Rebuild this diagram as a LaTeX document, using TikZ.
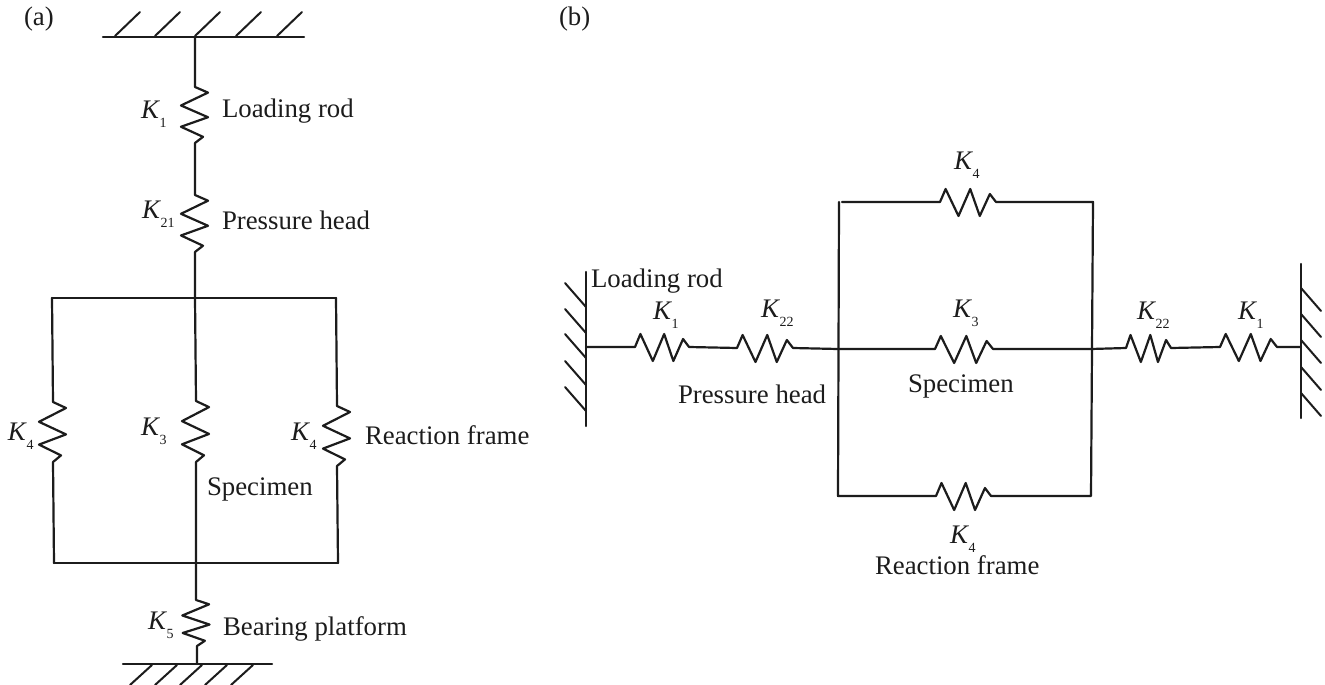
\documentclass[tikz,border=0pt]{standalone}
\usepackage{fontspec}
\setmainfont{Liberation Serif}
\usetikzlibrary{calc}
\definecolor{ink}{HTML}{1C1C1C}
\newcommand{\KK}[1]{\textit{K}\kern-0.5pt\raisebox{-9.5pt}{\fontsize{14}{14}\selectfont #1}}
\tikzset{
  wire/.style={draw=ink,line width=2.2pt,line join=round,line cap=round},
  hatch/.style={draw=ink,line width=2pt,line cap=round},
  lab/.style={anchor=base west,inner sep=0pt,outer sep=0pt,text=ink,font=\fontsize{26.8}{30}\selectfont},
  spring/.style={to path={
    -- ($(\tikztostart)!.10!(\tikztotarget)!13pt!90:(\tikztotarget)$)
    -- ($(\tikztostart)!.33!(\tikztotarget)!14pt!-90:(\tikztotarget)$)
    -- ($(\tikztostart)!.54!(\tikztotarget)!13pt!90:(\tikztotarget)$)
    -- ($(\tikztostart)!.71!(\tikztotarget)!14pt!-90:(\tikztotarget)$)
    -- ($(\tikztostart)!.89!(\tikztotarget)!8pt!90:(\tikztotarget)$)
    -- (\tikztotarget)}}
}
\begin{document}
\begin{tikzpicture}[x=1pt,y=-1pt]
\fill[white] (0,0) rectangle (1325,685);
\useasboundingbox (0,0) rectangle (1325,685);

% ---------- panel (a)
\coordinate (aTopL) at (103,37);
\coordinate (aTopR) at (304,37);
\coordinate (aTop) at (195,37);
\coordinate (s1t) at (195,87);
\coordinate (s1b) at (195,143);
\coordinate (s2t) at (195,195);
\coordinate (s2b) at (195,252);
\coordinate (aJt) at (195,298);
\coordinate (aFL) at (52,298);
\coordinate (aFR) at (336,298);
\coordinate (sLt) at (53,402);
\coordinate (sLb) at (53,462);
\coordinate (sMt) at (196,401);
\coordinate (sMb) at (196,462);
\coordinate (sRt) at (337,406);
\coordinate (sRb) at (337,466);
\coordinate (aBL) at (54,563);
\coordinate (aBM) at (196,563);
\coordinate (aBR) at (338,563);
\coordinate (s5t) at (196,600);
\coordinate (s5b) at (197,646);
\coordinate (aGnd) at (197,664);
\coordinate (aGL) at (123,664);
\coordinate (aGR) at (272,664);

\draw[wire] (aTopL) -- (aTopR);
\foreach \x in {115,155,195,236,277} \draw[hatch] (\x,36) -- ++(25,-24);
\draw[wire] (aTop) -- (s1t) to[spring] (s1b) -- (s2t) to[spring] (s2b) -- (aJt);
\draw[wire] (aFL) -- (aFR);
\draw[wire] (aFL) -- (sLt) to[spring] (sLb) -- (aBL);
\draw[wire] (aJt) -- (sMt) to[spring] (sMb) -- (aBM);
\draw[wire] (aFR) -- (sRt) to[spring] (sRb) -- (aBR);
\draw[wire] (aBL) -- (aBR);
\draw[wire] (aBM) -- (s5t) to[spring] (s5b) -- (aGnd);
\draw[wire] (aGL) -- (aGR);
\foreach \x in {152,177,202,227,253} \draw[hatch] (\x,665) -- ++(-22,20);

\node[lab] (tA) at (24,26) {(a)};
\node[lab] (kA1) at (141,118) {\KK{1}};
\node[lab] (nA1) at (222,117) {Loading rod};
\node[lab] (kA21) at (142,218) {\KK{21}};
\node[lab] (nA2) at (222,229) {Pressure head};
\node[lab] (kA4l) at (8,440) {\KK{4}};
\node[lab] (kA3) at (141,435) {\KK{3}};
\node[lab] (kA4r) at (291,440) {\KK{4}};
\node[lab] (nA4) at (365,444) {Reaction frame};
\node[lab] (nA3) at (207,495) {Specimen};
\node[lab] (kA5) at (148,629) {\KK{5}};
\node[lab] (nA5) at (223,635) {Bearing platform};

% ---------- panel (b)
\coordinate (wLt) at (586,272);
\coordinate (wLb) at (586,426);
\coordinate (wLm) at (586,347);
\coordinate (h1t) at (635,347);
\coordinate (h1b) at (689,347);
\coordinate (h2t) at (737,348);
\coordinate (h2b) at (793,348);
\coordinate (bJL) at (838,349);
\coordinate (h3t) at (935,349);
\coordinate (h3b) at (993,349);
\coordinate (bJR) at (1091,349);
\coordinate (h4t) at (1126,348);
\coordinate (h4b) at (1171,348);
\coordinate (h5t) at (1220,347);
\coordinate (h5b) at (1277,347);
\coordinate (wRm) at (1301,347);
\coordinate (wRt) at (1301,264);
\coordinate (wRb) at (1301,418);
\coordinate (bTLa) at (839,202);
\coordinate (bTLb) at (842,202);
\coordinate (h6t) at (940,202);
\coordinate (h6b) at (996,202);
\coordinate (bTR) at (1093,202);
\coordinate (bBL) at (838,496);
\coordinate (h7t) at (936,496);
\coordinate (h7b) at (991,496);
\coordinate (bBR) at (1091,496);

\draw[wire] (wLt) -- (wLb);
\foreach \y in {307,333,358,385,411} \draw[hatch] (586,\y) -- ++(-21,-24);
\draw[wire] (wRt) -- (wRb);
\foreach \y in {288,314,340,367,393} \draw[hatch] (1301,\y) -- ++(20,23);
\draw[wire] (wLm) -- (h1t) to[spring] (h1b) -- (h2t) to[spring] (h2b) -- (bJL)
  -- (h3t) to[spring] (h3b) -- (bJR) -- (h4t) to[spring] (h4b)
  -- (h5t) to[spring] (h5b) -- (wRm);
\draw[wire] (bTLb) -- (h6t) to[spring] (h6b) -- (bTR) -- (bBR) -- (h7b);
\draw[wire] (bTLa) -- (bBL) -- (h7t) to[spring] (h7b);

\node[lab] (tB) at (559,26) {(b)};
\node[lab] (nB1) at (591,287) {Loading rod};
\node[lab] (kB1) at (653,319) {\KK{1}};
\node[lab] (kB22) at (761,317) {\KK{22}};
\node[lab] (nB2) at (678,403) {Pressure head};
\node[lab] (kB4t) at (954,169) {\KK{4}};
\node[lab] (kB3) at (953,317) {\KK{3}};
\node[lab] (nB3) at (908,392) {Specimen};
\node[lab] (kB4b) at (950,543) {\KK{4}};
\node[lab] (nB4) at (875,574) {Reaction frame};
\node[lab] (kB22r) at (1137,319) {\KK{22}};
\node[lab] (kB1r) at (1238,319) {\KK{1}};
\end{tikzpicture}
\end{document}
